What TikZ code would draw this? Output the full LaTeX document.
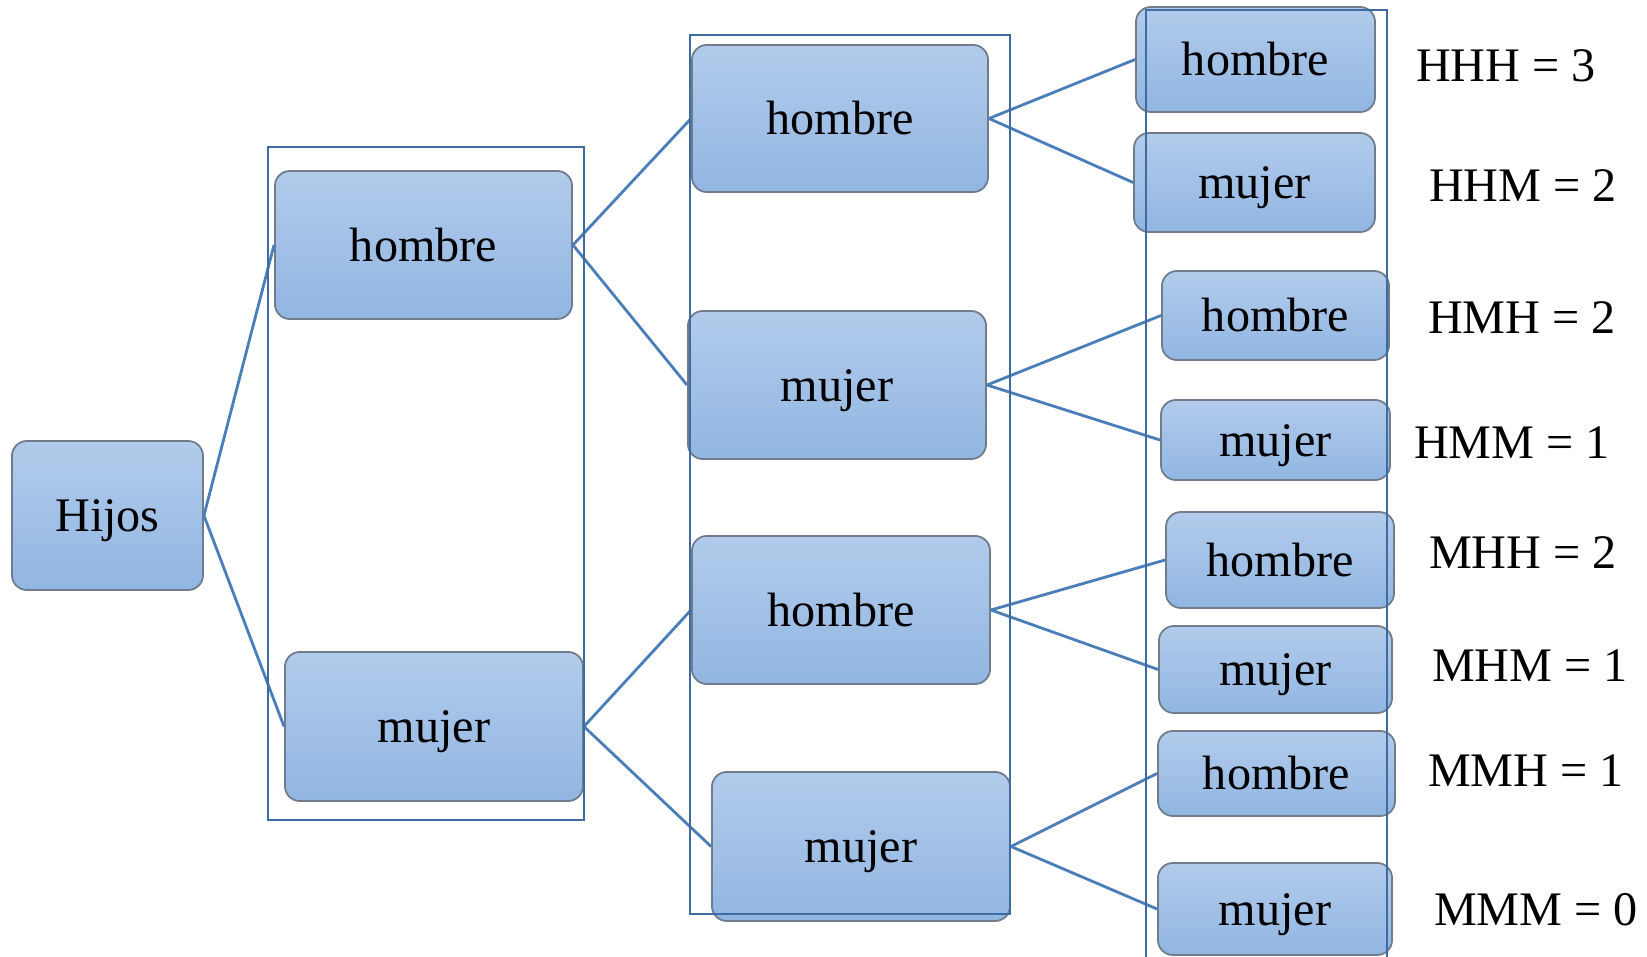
\documentclass[tikz,border=0pt]{standalone}
\usepackage{fontspec}
\setmainfont{Liberation Serif}
\usepackage{tikz}
\definecolor{linea}{RGB}{74,126,187}
\definecolor{marco}{RGB}{63,108,160}
\definecolor{borde}{RGB}{112,124,140}
\definecolor{arriba}{RGB}{178,203,235}
\definecolor{abajo}{RGB}{145,182,226}

\begin{document}
\begin{tikzpicture}[
    x=0.01cm, y=-0.01cm,
    every node/.style={font=\fontsize{13.7}{16}\selectfont},
    caja/.style={draw=borde, line width=0.5pt, rounded corners=0.15cm, top color=arriba, bottom color=abajo, inner sep=0pt, text height=9.3pt, text depth=0pt, align=center},
    rama/.style={draw=linea, line width=0.8pt},
    grupo/.style={draw=marco, line width=0.8pt}
]
    \useasboundingbox (0,0) rectangle (1647,957);

    % Nodes (root and first level)
        \node [caja, minimum width=1.91cm, minimum height=1.49cm] (hijos) at (107.5,515.5) {Hijos};
        \node [caja, minimum width=2.97cm, minimum height=1.48cm] (h) at (423.5,245) {hombre};
        \node [caja, minimum width=2.98cm, minimum height=1.49cm] (m) at (434,726.5) {mujer};

    % Nodes (second level)
        \node [caja, minimum width=2.96cm, minimum height=1.47cm] (hh) at (840,118.5) {hombre};
        \node [caja, minimum width=2.98cm, minimum height=1.48cm] (hm) at (837,385) {mujer};
        \node [caja, minimum width=2.98cm, minimum height=1.48cm] (mh) at (841,610) {hombre};
        \node [caja, minimum width=2.98cm, minimum height=1.49cm] (mm) at (861,846.5) {mujer};

    % Nodes (third level)
        \node [caja, minimum width=2.39cm, minimum height=1.05cm] (hhh) at (1255.5,59.5) {hombre};
        \node [caja, minimum width=2.41cm, minimum height=0.99cm] (hhm) at (1254.5,182.5) {mujer};
        \node [caja, minimum width=2.27cm, minimum height=0.89cm] (hmh) at (1275.5,315.5) {hombre};
        \node [caja, minimum width=2.29cm, minimum height=0.80cm] (hmm) at (1275.5,440) {mujer};
        \node [caja, minimum width=2.28cm, minimum height=0.96cm] (mhh) at (1280,560) {hombre};
        \node [caja, minimum width=2.33cm, minimum height=0.87cm] (mhm) at (1275.5,669.5) {mujer};
        \node [caja, minimum width=2.37cm, minimum height=0.85cm] (mmh) at (1276.5,773.5) {hombre};
        \node [caja, minimum width=2.34cm, minimum height=0.92cm] (mmm) at (1275,909) {mujer};

    % Results
        \node (rhhh) at (1506,66) {HHH = 3};
        \node (rhhm) at (1523,186) {HHM = 2};
        \node (rhmh) at (1522,318) {HMH = 2};
        \node (rhmm) at (1512,443) {HMM = 1};
        \node (rmhh) at (1523,553) {MHH = 2};
        \node (rmhm) at (1530,666) {MHM = 1};
        \node (rmmh) at (1526,771) {MMH = 1};
        \node (rmmm) at (1536,910) {MMM = 0};

    % Branches
        \draw[rama] (hijos.east) -- (h.west);
        \draw[rama] (hijos.east) -- (m.west);
        \draw[rama] (h.east) -- (hh.west);
        \draw[rama] (h.east) -- (hm.west);
        \draw[rama] (m.east) -- (mh.west);
        \draw[rama] (m.east) -- (mm.west);
        \draw[rama] (hh.east) -- (hhh.west);
        \draw[rama] (hh.east) -- (hhm.west);
        \draw[rama] (hm.east) -- (hmh.west);
        \draw[rama] (hm.east) -- (hmm.west);
        \draw[rama] (mh.east) -- (mhh.west);
        \draw[rama] (mh.east) -- (mhm.west);
        \draw[rama] (mm.east) -- (mmh.west);
        \draw[rama] (mm.east) -- (mmm.west);

    % Frames
        \draw[grupo] (268,147) rectangle (584,820);
        \draw[grupo] (690,35) rectangle (1010,914);
        \draw[grupo] (1146,970) -- (1146,10) -- (1387,10) -- (1387,970);
\end{tikzpicture}
\end{document}
